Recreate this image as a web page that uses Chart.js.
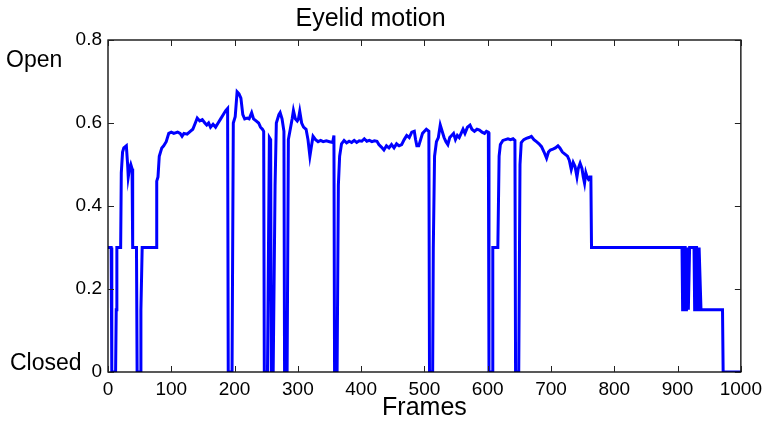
<!DOCTYPE html>
<html>
<head>
<meta charset="utf-8">
<script src="https://cdn.jsdelivr.net/npm/chart.js@4/dist/chart.umd.min.js"></script>
<style>
  html, body { margin: 0; padding: 0; background: #fff; }
  #wrap { width: 768px; height: 424px; }
</style>
</head>
<body>
<div id="wrap"><canvas id="chart" width="768" height="424"></canvas></div>
<script>
// eyelid openness, frame by frame where it changes
const frames = [
  0, 5, 6, 12, 13, 14, 20, 21, 23, 25, 29, 31, 32, 34, 36, 38, 39,
  45, 46, 51, 52, 54, 76, 77, 79, 81, 85, 88, 92, 96, 100, 104, 110, 114,
  117, 120, 125, 130, 134, 138, 141, 145, 149, 153, 156, 159, 162, 166, 170,
  174, 178, 182, 186, 189, 190, 196, 198, 201, 204, 207, 210, 213, 216, 220,
  223, 227, 230, 234, 238, 241, 244, 246, 247, 251, 252, 255, 257, 258, 261,
  264, 266, 270, 272, 275, 278, 279, 283, 285, 288, 291, 293, 296, 299, 301,
  303, 306, 309, 313, 316, 319, 321, 324, 328, 332, 336, 340, 345, 350, 355,
  357, 358, 362, 364, 366, 369, 373, 377, 381, 385, 389, 393, 397, 401, 405,
  409, 413, 417, 421, 425, 428, 432, 436, 440, 444, 448, 452, 456, 460, 464,
  468, 472, 476, 480, 484, 486, 488, 491, 494, 497, 500, 503, 507, 508, 513,
  514, 516, 519, 522, 525, 528, 531, 534, 537, 540, 543, 546, 549, 552, 555,
  558, 561, 564, 568, 572, 575, 579, 583, 587, 591, 595, 598, 601, 602, 607,
  608, 616, 618, 620, 624, 628, 632, 636, 640, 643, 644, 649, 651, 653, 657,
  661, 665, 669, 673, 677, 681, 685, 689, 693, 696, 699, 703, 707, 711, 714,
  718, 722, 726, 729, 732, 735, 738, 741, 743, 746, 749, 751, 753, 755, 757,
  759, 761, 763, 764, 907, 908, 910, 911, 912, 913, 914, 915, 916, 917, 918,
  919, 926, 927, 928, 929, 930, 932, 933, 934, 935, 937, 971, 972, 1000
];
const openness = [
  0.30, 0.30, 0.00, 0.00, 0.15, 0.30, 0.30, 0.48, 0.53, 0.54, 0.545, 0.50, 0.47, 0.49, 0.50, 0.49, 0.30,
  0.30, 0.00, 0.00, 0.15, 0.30, 0.30, 0.46, 0.47, 0.52, 0.54, 0.545, 0.555, 0.575, 0.578, 0.575, 0.578, 0.575,
  0.568, 0.575, 0.573, 0.58, 0.585, 0.60, 0.612, 0.605, 0.608, 0.60, 0.595, 0.60, 0.59, 0.597, 0.59,
  0.60, 0.61, 0.62, 0.63, 0.635, 0.00, 0.00, 0.60, 0.615, 0.675, 0.67, 0.66, 0.62, 0.61, 0.612,
  0.61, 0.625, 0.61, 0.605, 0.60, 0.59, 0.585, 0.58, 0.00, 0.00, 0.00, 0.565, 0.56, 0.00, 0.00,
  0.45, 0.60, 0.62, 0.625, 0.61, 0.58, 0.00, 0.00, 0.56, 0.585, 0.61, 0.63, 0.61, 0.605, 0.61,
  0.628, 0.60, 0.59, 0.585, 0.56, 0.52, 0.54, 0.568, 0.56, 0.555, 0.558, 0.555, 0.557, 0.555, 0.553,
  0.57, 0.00, 0.00, 0.45, 0.52, 0.55, 0.558, 0.552, 0.556, 0.553, 0.558, 0.553, 0.557, 0.556, 0.562,
  0.556, 0.558, 0.555, 0.557, 0.556, 0.548, 0.542, 0.535, 0.545, 0.54, 0.548, 0.54, 0.55, 0.545, 0.548,
  0.56, 0.57, 0.565, 0.578, 0.58, 0.56, 0.545, 0.545, 0.56, 0.575, 0.58, 0.585, 0.58, 0.00, 0.00,
  0.30, 0.52, 0.555, 0.565, 0.595, 0.58, 0.565, 0.555, 0.548, 0.565, 0.57, 0.575, 0.56, 0.57, 0.565,
  0.575, 0.585, 0.575, 0.59, 0.595, 0.585, 0.58, 0.585, 0.583, 0.578, 0.575, 0.58, 0.578, 0.00, 0.00,
  0.30, 0.30, 0.52, 0.548, 0.558, 0.56, 0.562, 0.56, 0.562, 0.558, 0.00, 0.00, 0.50, 0.553, 0.56,
  0.563, 0.565, 0.568, 0.56, 0.555, 0.55, 0.543, 0.53, 0.515, 0.53, 0.535, 0.537, 0.54, 0.545, 0.54,
  0.53, 0.525, 0.52, 0.51, 0.488, 0.505, 0.495, 0.47, 0.49, 0.503, 0.49, 0.47, 0.455, 0.48, 0.47,
  0.465, 0.47, 0.47, 0.30, 0.30, 0.15, 0.15, 0.30, 0.30, 0.15, 0.15, 0.30, 0.30, 0.15, 0.15,
  0.30, 0.30, 0.15, 0.15, 0.30, 0.30, 0.15, 0.15, 0.30, 0.30, 0.15, 0.15, 0.00, 0.00
];
const xTicks = [0, 100, 200, 300, 400, 500, 600, 700, 800, 900, 1000];
const yTicks = [0, 0.2, 0.4, 0.6, 0.8];
const stateLabels = ["Open", "Closed"];
const stateValues = [0.75, 0.02];

const FONT = "'Liberation Sans', Arial, Helvetica, sans-serif";

const points = frames.map((f, i) => ({ x: f, y: openness[i] }));

// matlab style box with inward ticks, plus the Open / Closed words
const boxPlugin = {
  id: "box",
  afterDraw(chart) {
    const { ctx, chartArea: a, scales } = chart;
    const x = scales.x, y = scales.y;
    ctx.save();
    ctx.strokeStyle = "#000";
    ctx.lineWidth = 1.3;
    ctx.strokeRect(a.left, a.top, a.right - a.left, a.bottom - a.top);
    ctx.lineWidth = 1;
    ctx.strokeStyle = "#222";
    const len = 6;
    ctx.beginPath();
    xTicks.forEach(v => {
      const px = Math.round(x.getPixelForValue(v)) + 0.5;
      ctx.moveTo(px, a.bottom); ctx.lineTo(px, a.bottom - len);
      ctx.moveTo(px, a.top); ctx.lineTo(px, a.top + len);
    });
    yTicks.forEach(v => {
      const py = Math.round(y.getPixelForValue(v)) + 0.5;
      ctx.moveTo(a.left, py); ctx.lineTo(a.left + len, py);
      ctx.moveTo(a.right, py); ctx.lineTo(a.right - len, py);
    });
    ctx.stroke();
    ctx.fillStyle = "#000";
    ctx.font = "23px " + FONT;
    ctx.textAlign = "left";
    ctx.textBaseline = "middle";
    stateLabels.forEach((t, i) => {
      ctx.fillText(t, i === 0 ? 6 : 10, y.getPixelForValue(stateValues[i]));
    });
    ctx.restore();
  }
};

new Chart(document.getElementById("chart").getContext("2d"), {
  type: "line",
  data: {
    datasets: [{
      label: "Eyelid",
      data: points,
      borderColor: "#0000ff",
      borderWidth: 3,
      pointRadius: 0,
      tension: 0,
      fill: false
    }]
  },
  options: {
    responsive: false,
    animation: false,
    layout: { padding: { left: 0, right: 27, top: 0, bottom: 0 } },
    plugins: {
      legend: { display: false },
      tooltip: { enabled: false },
      title: {
        display: true,
        text: "Eyelid motion",
        color: "#000",
        font: { family: FONT, size: 25, weight: "normal" },
        padding: { top: 4, bottom: 6 }
      }
    },
    scales: {
      x: {
        type: "linear",
        min: 0,
        max: 1000,
        afterFit(s) { s.height = 52; },
        afterBuildTicks(s) { s.ticks = xTicks.map(v => ({ value: v })); },
        grid: { display: false, drawTicks: false },
        border: { display: false },
        ticks: {
          color: "#000", padding: 6, maxRotation: 0,
          font: { family: FONT, size: 19 },
          callback: v => String(v)
        },
        title: {
          display: true,
          text: "Frames",
          color: "#000",
          font: { family: FONT, size: 25 },
          padding: { top: 0, bottom: 1 }
        }
      },
      y: {
        min: 0,
        max: 0.8,
        afterFit(s) { s.width = 108; },
        afterBuildTicks(s) { s.ticks = yTicks.map(v => ({ value: v })); },
        grid: { display: false, drawTicks: false },
        border: { display: false },
        ticks: {
          color: "#000", padding: 6,
          font: { family: FONT, size: 19 },
          callback: v => String(v)
        }
      }
    }
  },
  plugins: [boxPlugin]
});
</script>
</body>
</html>
